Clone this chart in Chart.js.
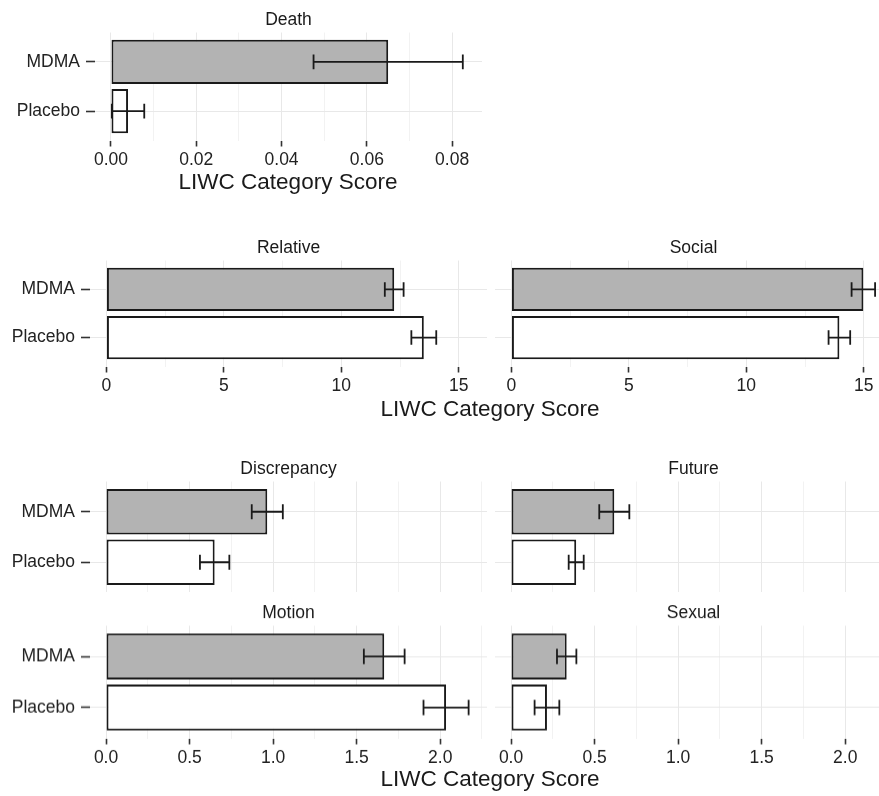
<!DOCTYPE html>
<html>
<head>
<meta charset="utf-8">
<script src="https://cdn.jsdelivr.net/npm/chart.js@4.4.1/dist/chart.umd.min.js"></script>
<style>
  html, body { margin: 0; padding: 0; background: #fff; }
  body { width: 879px; height: 796px; position: relative; overflow: hidden; font-family: 'Liberation Sans', Arial, sans-serif; }
  .panel { position: absolute; }
  .axis-title { position: absolute; font-size: 22.5px; line-height: 1; color: #1a1a1a; white-space: nowrap; transform: translate(-50%, -50%); }
</style>
</head>
<body>

<div class="panel" style="left:0;top:9.5px;width:482px;height:160.5px"><canvas id="deathChart"></canvas></div>
<div class="axis-title" style="left:288px;top:181.5px">LIWC Category Score</div>

<div class="panel" style="left:0;top:237.5px;width:487px;height:158.5px"><canvas id="relativeChart"></canvas></div>
<div class="panel" style="left:495px;top:237.5px;width:397px;height:158.5px"><canvas id="socialChart"></canvas></div>
<div class="axis-title" style="left:490px;top:409px">LIWC Category Score</div>

<div class="panel" style="left:0;top:458.5px;width:487px;height:133.5px"><canvas id="discrepancyChart"></canvas></div>
<div class="panel" style="left:495px;top:458.5px;width:397px;height:133.5px"><canvas id="futureChart"></canvas></div>
<div class="panel" style="left:0;top:603px;width:487px;height:164.5px"><canvas id="motionChart"></canvas></div>
<div class="panel" style="left:495px;top:603px;width:397px;height:164.5px"><canvas id="sexualChart"></canvas></div>
<div class="axis-title" style="left:490px;top:779px">LIWC Category Score</div>

<script>
// groups shown on every panel (top to bottom)
const groups = ['MDMA', 'Placebo'];

// mean LIWC category score per group, and error bar half width
const deathMean = [0.065, 0.004];
const deathErr = [0.0175, 0.0038];
const relativeMean = [12.25, 13.51];
const relativeErr = [0.40, 0.53];
const socialMean = [14.98, 13.96];
const socialErr = [0.50, 0.46];
const discrepancyMean = [0.965, 0.65];
const discrepancyErr = [0.093, 0.088];
const futureMean = [0.618, 0.39];
const futureErr = [0.09, 0.045];
const motionMean = [1.665, 2.035];
const motionErr = [0.122, 0.135];
const sexualMean = [0.333, 0.215];
const sexualErr = [0.058, 0.074];

// x axis tick labels per row
const deathTicks = [0, 0.02, 0.04, 0.06, 0.08];
const middleTicks = [0, 5, 10, 15];
const bottomTicks = [0, 0.5, 1.0, 1.5, 2.0];

Chart.defaults.font.family = "'Liberation Sans', Arial, sans-serif";
Chart.defaults.font.size = 17.5;

const fills = ['#b3b3b3', '#ffffff'];
const ink = '#1a1a1a';

// major ticks plus the minor gridlines half way between them
function withMinor(major, min, max) {
    const step = major[1] - major[0];
    const out = major.map(v => ({ value: v, minor: false }));
    for (let i = -1; i < major.length; i++) {
        const m = major[0] + (i + 0.5) * step;
        if (m > min && m < max) out.push({ value: m, minor: true });
    }
    return out.sort((a, b) => a.value - b.value);
}

// draws mean +/- error with caps on top of each bar
const errorBars = {
    id: 'errorBars',
    afterDatasetsDraw(chart) {
        const { ctx, scales: { x, y } } = chart;
        const ds = chart.data.datasets[0];
        const meta = chart.getDatasetMeta(0);
        const capHalf = Math.abs(y.getPixelForValue(1) - y.getPixelForValue(0)) * 0.15;
        ctx.save();
        ctx.strokeStyle = ink;
        ctx.lineWidth = 1.8;
        meta.data.forEach((bar, i) => {
            const m = ds.data[i].x, e = ds.errors[i];
            const x0 = x.getPixelForValue(m - e);
            const x1 = x.getPixelForValue(m + e);
            const yc = bar.y;
            ctx.beginPath();
            ctx.moveTo(x0, yc); ctx.lineTo(x1, yc);
            ctx.moveTo(x0, yc - capHalf); ctx.lineTo(x0, yc + capHalf);
            ctx.moveTo(x1, yc - capHalf); ctx.lineTo(x1, yc + capHalf);
            ctx.stroke();
        });
        ctx.restore();
    }
};

function makePanel(id, title, means, errs, ticks, p) {
    const tickList = withMinor(ticks, p.min, p.max);
    return new Chart(document.getElementById(id), {
        type: 'bar',
        data: {
            datasets: [{
                data: means.map((v, i) => ({ x: v, y: i })),
                errors: errs,
                backgroundColor: fills,
                borderColor: ink,
                borderWidth: 2,
                borderSkipped: false,
                barPercentage: 0.9,
                categoryPercentage: 1
            }]
        },
        options: {
            indexAxis: 'y',
            responsive: true,
            maintainAspectRatio: false,
            animation: false,
            events: [],
            layout: { padding: 0 },
            plugins: {
                legend: { display: false },
                tooltip: { enabled: false },
                title: {
                    display: true,
                    text: title,
                    fullSize: false,
                    color: ink,
                    font: { size: 17.5, weight: 'normal' },
                    padding: { top: 0, bottom: 1.5 }
                }
            },
            scales: {
                x: {
                    type: 'linear',
                    min: p.min,
                    max: p.max,
                    offset: false,
                    afterBuildTicks: s => { s.ticks = tickList.map(t => ({ ...t })); },
                    afterFit: s => { s.height = p.showX ? 30 : 0; },
                    border: { display: false },
                    grid: {
                        offset: false,
                        color: c => (c.tick && c.tick.minor) ? '#f2f2f2' : '#e8e8e8',
                        lineWidth: 1,
                        drawTicks: p.showX,
                        tickLength: 6,
                        tickWidth: 1.6,
                        tickColor: c => (c.tick && c.tick.minor) ? 'rgba(0,0,0,0)' : '#333'
                    },
                    ticks: {
                        display: p.showX,
                        autoSkip: false,
                        maxRotation: 0,
                        padding: 3,
                        color: '#222',
                        callback: (v, i, t) => t[i].minor ? '' : v.toFixed(p.dec)
                    }
                },
                y: {
                    type: 'linear',
                    reverse: true,
                    min: -0.6,
                    max: 1.6,
                    offset: false,
                    afterBuildTicks: s => { s.ticks = groups.map((g, i) => ({ value: i })); },
                    afterFit: s => {
                        s.width = p.yWidth;
                        s.paddingTop = 0;
                        s.paddingBottom = 0;
                    },
                    border: { display: false },
                    grid: {
                        offset: false,
                        color: '#e8e8e8',
                        drawTicks: p.yWidth > 0,
                        tickLength: 9,
                        tickWidth: 1.6,
                        tickColor: '#333'
                    },
                    ticks: {
                        display: p.yWidth > 0,
                        padding: 6,
                        color: '#222',
                        callback: v => groups[v]
                    }
                }
            }
        },
        plugins: [errorBars]
    });
}

makePanel('deathChart', 'Death', deathMean, deathErr, deathTicks,
    { min: -0.00375, max: 0.087, dec: 2, showX: true, yWidth: 95 });
makePanel('relativeChart', 'Relative', relativeMean, relativeErr, middleTicks,
    { min: -0.7, max: 16.2, dec: 0, showX: true, yWidth: 90 });
makePanel('socialChart', 'Social', socialMean, socialErr, middleTicks,
    { min: -0.7, max: 16.2, dec: 0, showX: true, yWidth: 0 });
makePanel('discrepancyChart', 'Discrepancy', discrepancyMean, discrepancyErr, bottomTicks,
    { min: -0.096, max: 2.28, dec: 1, showX: false, yWidth: 90 });
makePanel('futureChart', 'Future', futureMean, futureErr, bottomTicks,
    { min: -0.096, max: 2.28, dec: 1, showX: false, yWidth: 0 });
makePanel('motionChart', 'Motion', motionMean, motionErr, bottomTicks,
    { min: -0.096, max: 2.28, dec: 1, showX: true, yWidth: 90 });
makePanel('sexualChart', 'Sexual', sexualMean, sexualErr, bottomTicks,
    { min: -0.096, max: 2.28, dec: 1, showX: true, yWidth: 0 });
</script>
</body>
</html>
